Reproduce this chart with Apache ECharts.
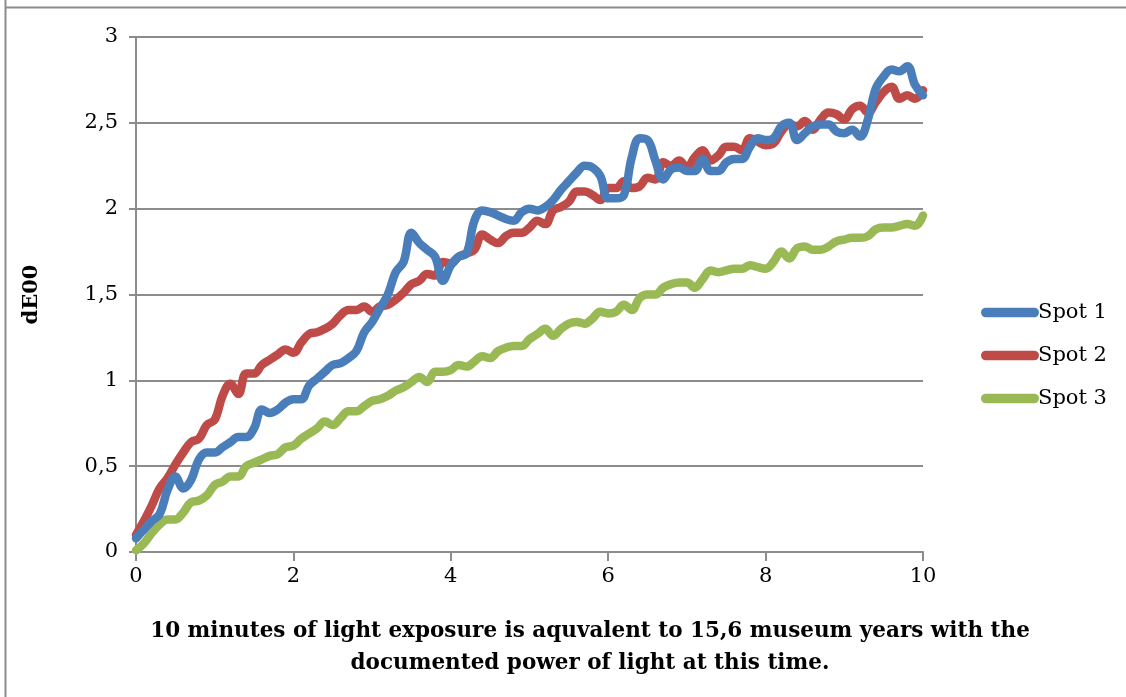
<!DOCTYPE html>
<html>
<head>
<meta charset="utf-8">
<script src="https://cdn.jsdelivr.net/npm/echarts@6/dist/echarts.min.js"></script>
<style>html,body{margin:0;padding:0;background:#fff}#c{width:1126px;height:697px}</style>
</head>
<body>
<div id="c"></div>
<script>
const xValues = [0,0.1,0.2,0.3,0.4,0.5,0.6,0.7,0.8,0.9,1,1.1,1.2,1.3,1.4,1.5,1.6,1.7,1.8,1.9,2,2.1,2.2,2.3,2.4,2.5,2.6,2.7,2.8,2.9,3,3.1,3.2,3.3,3.4,3.5,3.6,3.7,3.8,3.9,4,4.1,4.2,4.3,4.4,4.5,4.6,4.7,4.8,4.9,5,5.1,5.2,5.3,5.4,5.5,5.6,5.7,5.8,5.9,6,6.1,6.2,6.3,6.4,6.5,6.6,6.7,6.8,6.9,7,7.1,7.2,7.3,7.4,7.5,7.6,7.7,7.8,7.9,8,8.1,8.2,8.3,8.4,8.5,8.6,8.7,8.8,8.9,9,9.1,9.2,9.3,9.4,9.5,9.6,9.7,9.8,9.9,10];
const spot1 = [0.08,0.13,0.18,0.22,0.36,0.44,0.37,0.42,0.54,0.58,0.58,0.61,0.64,0.67,0.67,0.72,0.83,0.81,0.83,0.87,0.89,0.89,0.97,1.01,1.05,1.09,1.10,1.13,1.17,1.28,1.34,1.42,1.50,1.63,1.69,1.86,1.80,1.76,1.72,1.58,1.67,1.72,1.74,1.93,1.99,1.98,1.96,1.94,1.93,1.98,2.00,1.99,2.01,2.05,2.11,2.16,2.21,2.25,2.24,2.19,2.06,2.06,2.08,2.30,2.41,2.40,2.28,2.17,2.23,2.24,2.22,2.22,2.29,2.22,2.22,2.27,2.29,2.29,2.36,2.41,2.40,2.41,2.48,2.50,2.40,2.44,2.48,2.49,2.49,2.45,2.44,2.46,2.42,2.52,2.70,2.77,2.81,2.80,2.83,2.72,2.66];
const spot2 = [0.10,0.18,0.27,0.37,0.43,0.51,0.58,0.64,0.66,0.74,0.77,0.91,0.98,0.92,1.04,1.04,1.09,1.12,1.15,1.18,1.16,1.22,1.27,1.28,1.30,1.33,1.38,1.41,1.41,1.43,1.40,1.43,1.44,1.47,1.51,1.56,1.58,1.62,1.61,1.69,1.68,1.72,1.74,1.76,1.85,1.82,1.80,1.84,1.86,1.86,1.89,1.93,1.91,1.99,2.01,2.04,2.10,2.10,2.08,2.05,2.12,2.12,2.16,2.12,2.13,2.18,2.17,2.27,2.25,2.28,2.24,2.30,2.34,2.28,2.31,2.36,2.36,2.34,2.41,2.39,2.37,2.38,2.45,2.49,2.48,2.51,2.46,2.52,2.56,2.55,2.52,2.58,2.60,2.56,2.62,2.68,2.71,2.64,2.66,2.64,2.69];
const spot3 = [0.01,0.05,0.11,0.16,0.19,0.19,0.23,0.29,0.30,0.33,0.39,0.41,0.44,0.44,0.50,0.52,0.54,0.56,0.57,0.61,0.62,0.66,0.69,0.72,0.76,0.74,0.78,0.82,0.82,0.85,0.88,0.89,0.91,0.94,0.96,0.99,1.02,0.99,1.05,1.05,1.06,1.09,1.08,1.11,1.14,1.13,1.17,1.19,1.20,1.20,1.24,1.27,1.30,1.26,1.30,1.33,1.34,1.33,1.36,1.40,1.39,1.40,1.44,1.41,1.48,1.50,1.50,1.54,1.56,1.57,1.57,1.54,1.59,1.64,1.63,1.64,1.65,1.65,1.67,1.66,1.65,1.69,1.75,1.71,1.77,1.78,1.76,1.76,1.78,1.81,1.82,1.83,1.83,1.84,1.88,1.89,1.89,1.90,1.91,1.90,1.96];
const seriesNames = ['Spot 1','Spot 2','Spot 3'];
const seriesColors = ['#4a7ebb','#be4b48','#98b954'];
const yAxisTitle = 'dE00';
const xAxisTitle = '10 minutes of light exposure is aquvalent to 15,6 museum years with the\ndocumented power of light at this time.';

const FONT = '"DejaVu Serif","Liberation Serif",serif';
const chart = echarts.init(document.getElementById('c'), null, {renderer:'canvas'});
const all = [spot1, spot2, spot3];
const pill = 'path://M5,0 L55,0 A5,5 0 0 1 55,10 L5,10 A5,5 0 0 1 5,0 Z';
chart.setOption({
  animation:false,
  backgroundColor:'#fff',
  grid:{left:136, right:203, top:37, bottom:145, containLabel:false},
  title:{text:xAxisTitle, left:585, top:610, textAlign:'center',
    textStyle:{fontFamily:FONT, fontWeight:'bold', fontSize:21.5, color:'#000', lineHeight:32}},
  legend:{orient:'vertical', left:976, top:297, itemGap:22, itemWidth:58, itemHeight:10,
    icon:pill, textStyle:{fontFamily:FONT, fontSize:21, color:'#000', padding:[0,0,0,-6]},
    data:seriesNames},
  xAxis:{type:'value', min:0, max:10, interval:2,
    axisLine:{show:true, lineStyle:{color:'#8c8c8c', width:2}},
    axisTick:{show:true, length:9, lineStyle:{color:'#8c8c8c', width:2}},
    splitLine:{show:false},
    axisLabel:{fontFamily:FONT, fontSize:21, color:'#000', margin:14}},
  yAxis:{type:'value', min:0, max:3, interval:0.5,
    name:yAxisTitle, nameLocation:'middle', nameGap:94, nameRotate:90,
    nameTextStyle:{fontFamily:FONT, fontWeight:'bold', fontSize:21, color:'#000'},
    axisLine:{show:true, lineStyle:{color:'#8c8c8c', width:2}},
    axisTick:{show:true, length:7, lineStyle:{color:'#8c8c8c', width:2}},
    splitLine:{show:true, lineStyle:{color:'#8c8c8c', width:2}},
    axisLabel:{fontFamily:FONT, fontSize:21, color:'#000', margin:18,
      formatter:v=>String(v).replace('.',',')}},
  graphic:[
    {type:'line', shape:{x1:5.5,y1:0,x2:5.5,y2:697}, style:{stroke:'#8c8c8c', lineWidth:2}, z:100},
    {type:'line', shape:{x1:5,y1:7.5,x2:1126,y2:7.5}, style:{stroke:'#8c8c8c', lineWidth:2}, z:100}
  ],
  series: all.map((arr,i)=>({
    name:seriesNames[i], type:'line', smooth:0.4, symbol:'none',
    data:arr.map((v,j)=>[xValues[j], v]),
    lineStyle:{color:seriesColors[i], width:8.5, cap:'round', join:'round'},
    itemStyle:{color:seriesColors[i]},
    z: 3 - i
  }))
});
</script>
</body>
</html>
